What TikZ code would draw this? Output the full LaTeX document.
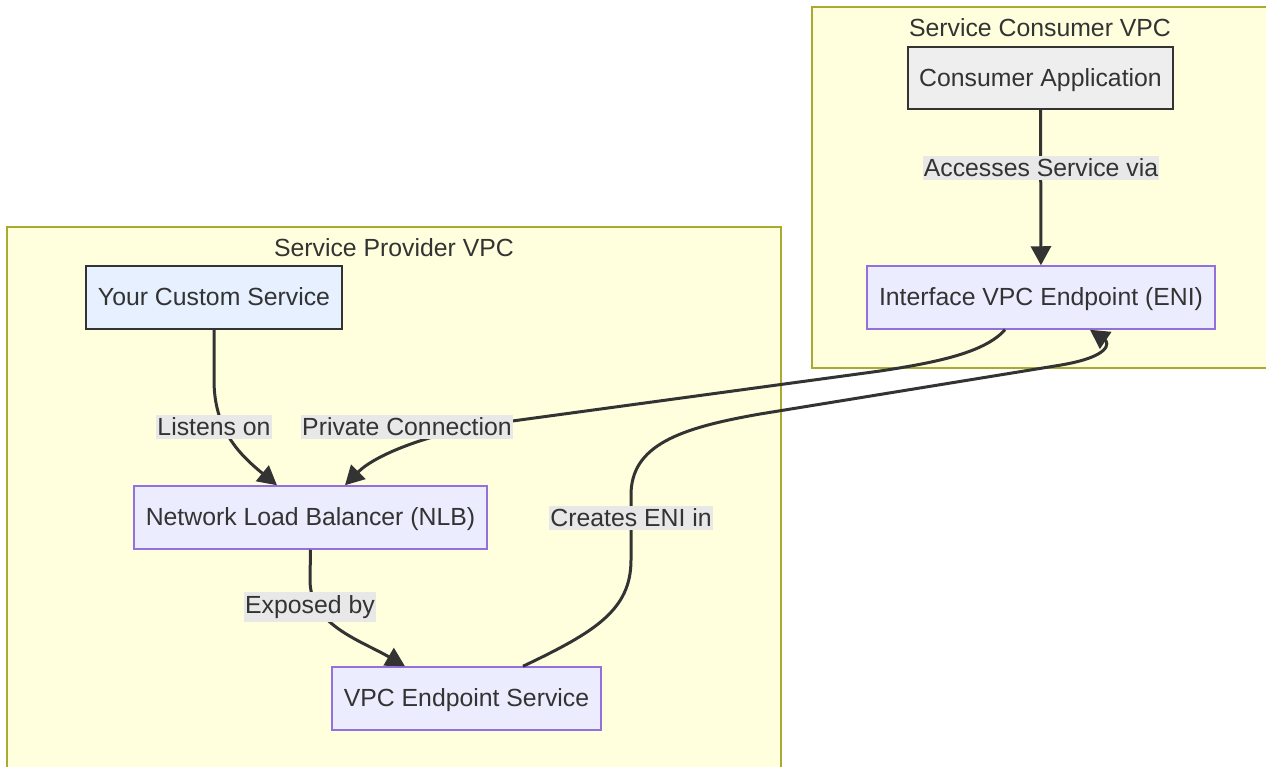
\documentclass[tikz,border=0pt]{standalone}
\usepackage{fontspec}
\setmainfont{Liberation Sans}
\usetikzlibrary{arrows.meta, calc}

\definecolor{textc}{HTML}{333333}
\definecolor{clfill}{HTML}{FFFFDE}
\definecolor{cldraw}{HTML}{AAAA33}
\definecolor{nfill}{HTML}{ECECFF}
\definecolor{ndraw}{HTML}{9370DB}
\definecolor{appfill}{HTML}{EEEEEE}
\definecolor{svcfill}{HTML}{E6F0FF}
\definecolor{lblfill}{HTML}{E8E8E8}

\tikzset{
    area/.style = {draw = cldraw, fill = clfill, line width = 1.5pt},
    box/.style = {draw = ndraw, fill = nfill, line width = 1.5pt, minimum height = 63pt, inner sep = 0pt,
        text height = 22pt, text depth = 5.5pt, text = textc},
    darkbox/.style = {box, draw = textc},
    lbl/.style = {fill = lblfill, text = textc, inner xsep = 1pt, inner ysep = 3pt},
    edge/.style = {draw = textc, line width = 3pt, -{Triangle[length = 19pt, width = 20pt]}},
}

\begin{document}
\begin{tikzpicture}[x = 1pt, y = -1pt, font = \fontsize{24.8}{29}\selectfont]
        \useasboundingbox ( 0, 0 ) rectangle ( 1266, 766 );

        % области
        \draw [area] ( 812, 7 ) rectangle ( 1270, 368 );
        \draw [area] ( 7, 227 ) rectangle ( 781, 772 );
        \node [text = textc] (consTitle) at ( 1040, 28 ) {Service Consumer VPC};
        \node [text = textc] (provTitle) at ( 394, 248 ) {Service Provider VPC};

        % узлы
        \node [darkbox, fill = appfill, minimum width = 265pt, minimum height = 62pt] (app) at ( 1040.5, 78 ) {Consumer Application};
        \node [box, minimum width = 348pt] (eni) at ( 1041, 297.5 ) {Interface VPC Endpoint (ENI)};
        \node [darkbox, fill = svcfill, minimum width = 256pt] (svc) at ( 214, 297.5 ) {Your Custom Service};
        \node [box, minimum width = 353pt] (nlb) at ( 310.5, 517.5 ) {Network Load Balancer (NLB)};
        \node [box, minimum width = 269pt] (eps) at ( 466.5, 698.5 ) {VPC Endpoint Service};

        % точки подписей
        \coordinate (pAccess) at ( 1041, 168 );
        \coordinate (pListen) at ( 214, 427 );
        \coordinate (pPrivate) at ( 407, 427 );
        \coordinate (pCreate) at ( 631, 518 );
        \coordinate (pExpose) at ( 310, 607 );

        % связи
        \draw [edge] (app) -- (eni);
        \draw [edge] (svc.south) -- ( 214, 380 ) .. controls ( 214, 430 ) and ( 240, 455 ) .. ( $(nlb.north) + ( -33.5, 0 )$ );
        \draw [edge] ( $(eni.south) + ( -36, 0 )$ ) .. controls ( 985, 352 ) and ( 940, 362 ) .. ( 880, 371 )
            -- ( 505, 422 ) .. controls ( 430, 432 ) and ( 375, 455 ) .. ( $(nlb.north) + ( 34.5, 0 )$ );
        \draw [edge] ( $(eps.north) + ( 56.5, 0 )$ ) .. controls ( 595, 632 ) and ( 631, 610 ) .. ( 631, 560 )
            -- ( 631, 495 ) .. controls ( 631, 445 ) and ( 680, 428 ) .. ( 760, 414 )
            -- ( 1055, 366 ) .. controls ( 1114, 357 ) and ( 1108, 342 ) .. ( $(eni.south) + ( 49, 0 )$ );
        \draw [edge] (nlb.south) -- ( 310, 580 ) .. controls ( 310, 625 ) and ( 360, 640 ) .. ( $(eps.north) + ( -61.5, 0 )$ );

        % подписи
        \node [lbl] (lAccess) at (pAccess) {Accesses Service via};
        \node [lbl] (lListen) at (pListen) {Listens on};
        \node [lbl] (lPrivate) at (pPrivate) {Private Connection};
        \node [lbl] (lCreate) at (pCreate) {Creates ENI in};
        \node [lbl] (lExpose) at (pExpose) {Exposed by};
    \end{tikzpicture}
\end{document}
